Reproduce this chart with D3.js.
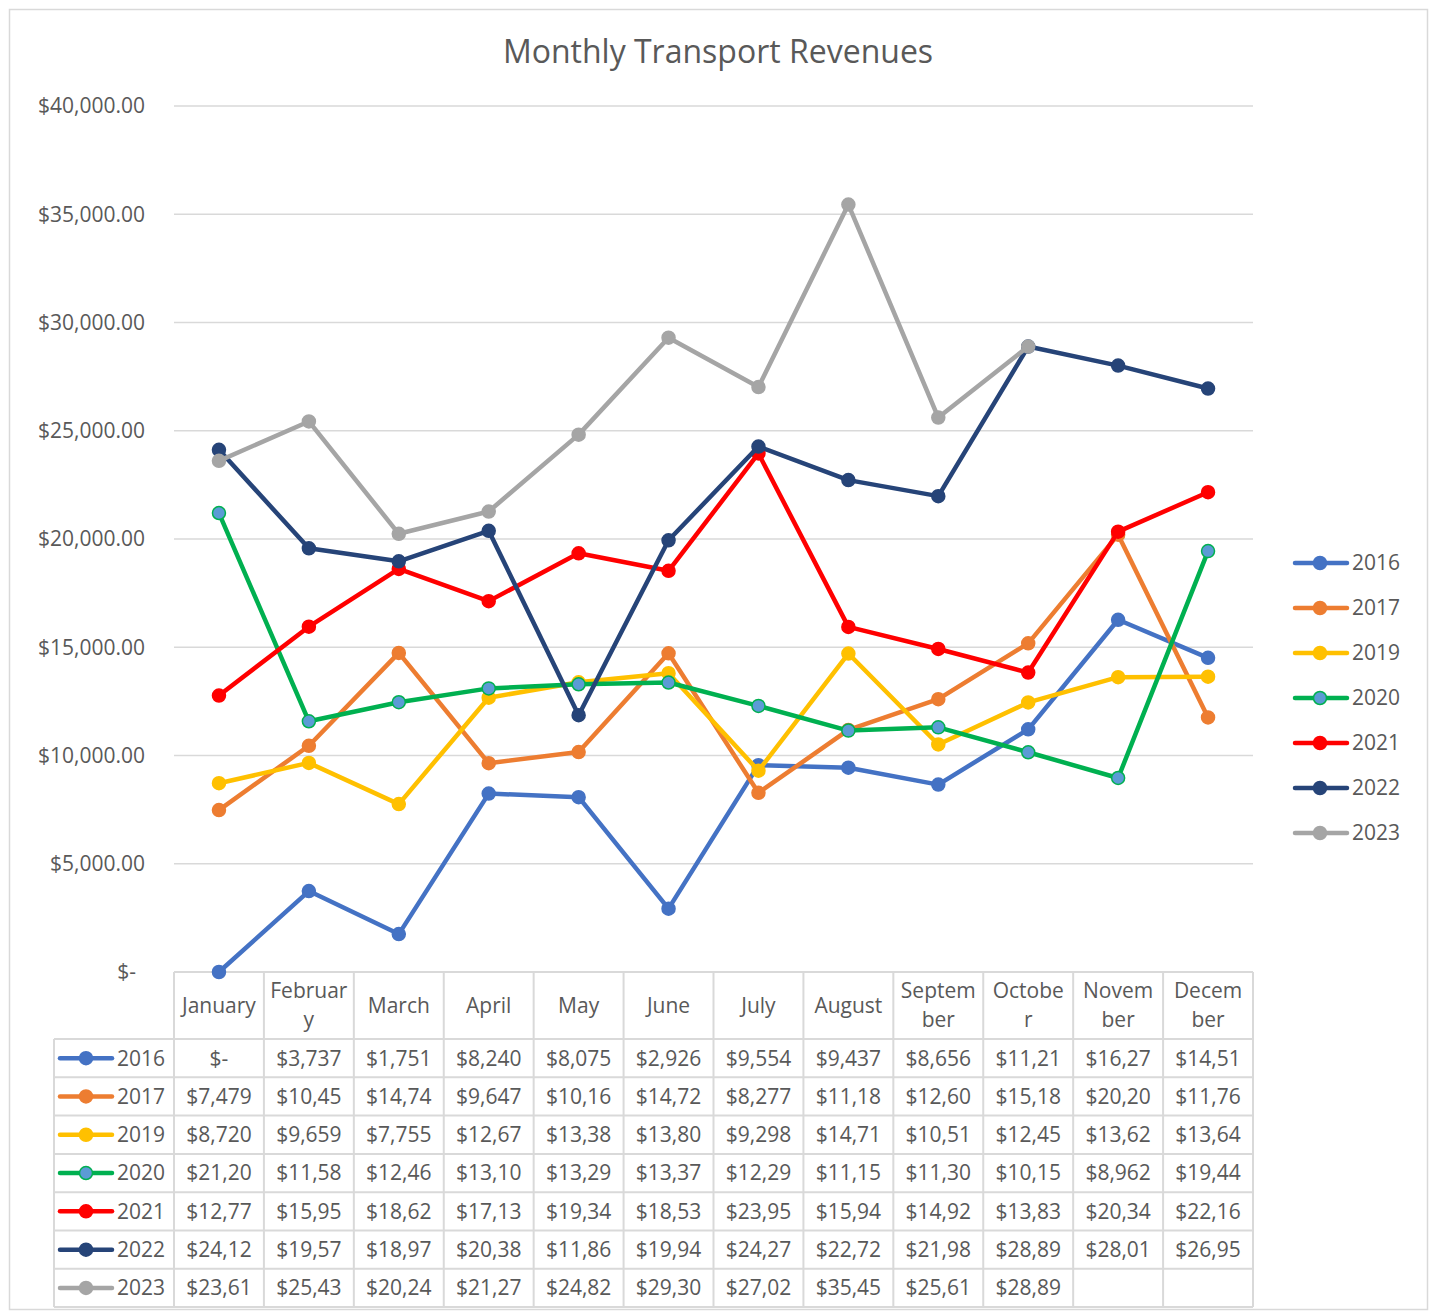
<!DOCTYPE html>
<html>
<head>
<meta charset="utf-8">
<script src="https://cdn.jsdelivr.net/npm/d3@7"></script>
<style>
  body { margin: 0; background: #fff; }
  svg { display: block; font-family: "Open Sans", sans-serif; }
</style>
</head>
<body>
<svg id="chart" width="1431" height="1314"></svg>
<script>
// data
const months = ["January", "February", "March", "April", "May", "June", "July",
    "August", "September", "October", "November", "December"];
const years = ["2016", "2017", "2019", "2020", "2021", "2022", "2023"];
const rev2016 = [0, 3737, 1751, 8240, 8075, 2926, 9554, 9437, 8656, 11210, 16270, 14510];
const rev2017 = [7479, 10450, 14740, 9647, 10160, 14720, 8277, 11180, 12600, 15180, 20200, 11760];
const rev2019 = [8720, 9659, 7755, 12670, 13380, 13800, 9298, 14710, 10510, 12450, 13620, 13640];
const rev2020 = [21200, 11580, 12460, 13100, 13290, 13370, 12290, 11150, 11300, 10150, 8962, 19440];
const rev2021 = [12770, 15950, 18620, 17130, 19340, 18530, 23950, 15940, 14920, 13830, 20340, 22160];
const rev2022 = [24120, 19570, 18970, 20380, 11860, 19940, 24270, 22720, 21980, 28890, 28010, 26950];
const rev2023 = [23610, 25430, 20240, 21270, 24820, 29300, 27020, 35450, 25610, 28890, null, null];
const yTicks = [0, 5000, 10000, 15000, 20000, 25000, 30000, 35000, 40000];

const seriesValues = [rev2016, rev2017, rev2019, rev2020, rev2021, rev2022, rev2023];
const lineColors = ["#4472c4", "#ed7d31", "#ffc000", "#00b050", "#ff0000", "#264478", "#a5a5a5"];
const dotFill = ["#4472c4", "#ed7d31", "#ffc000", "#5b9bd5", "#ff0000", "#264478", "#a5a5a5"];

const series = years.map((y, i) => ({
    year: y,
    color: lineColors[i],
    fill: dotFill[i],
    values: seriesValues[i].map((v, j) => ({ month: months[j], value: v }))
}));

const svg = d3.select("#chart");
const textCol = "#595959", gridCol = "#d9d9d9";
const fs = 21;

// chart border
svg.append("rect")
    .attr("x", 9.5).attr("y", 9.5)
    .attr("width", 1418).attr("height", 1300)
    .attr("fill", "none").attr("stroke", gridCol).attr("stroke-width", 1.5);

svg.append("text")
    .attr("x", 718).attr("y", 63)
    .attr("text-anchor", "middle")
    .attr("fill", textCol)
    .style("font-size", "32px")
    .text("Monthly Transport Revenues");

const plot = { left: 174, right: 1253, top: 106, bottom: 972 };

const x = d3.scaleBand().domain(months).range([plot.left, plot.right]);
const y = d3.scaleLinear().domain([0, 40000]).range([plot.bottom, plot.top]);
const cx = m => x(m) + x.bandwidth() / 2;

// gridlines
svg.append("g").selectAll("line")
    .data(yTicks.filter(t => t > 0))
    .join("line")
    .attr("x1", plot.left).attr("x2", plot.right)
    .attr("y1", d => y(d)).attr("y2", d => y(d))
    .attr("stroke", gridCol).attr("stroke-width", 1.5);

// y labels
const fmtY = d => d === 0 ? "$-" : "$" + d3.format(",.2f")(d);
svg.append("g").selectAll("text")
    .data(yTicks)
    .join("text")
    .attr("x", d => d === 0 ? 136 : 145)
    .attr("y", d => y(d))
    .attr("dy", "0.35em")
    .attr("text-anchor", "end")
    .attr("fill", textCol)
    .style("font-size", fs + "px")
    .text(fmtY);

// data table
const headerH = 67, rowH = 38.3;
const tableTop = plot.bottom, tableLeft = 54;
const rowsTop = tableTop + headerH;
const tableBottom = rowsTop + rowH * years.length;
const tg = svg.append("g");

// horizontal lines
tg.append("line").attr("x1", plot.left).attr("x2", plot.right)
    .attr("y1", tableTop).attr("y2", tableTop)
    .attr("stroke", gridCol).attr("stroke-width", 2);
tg.selectAll("line.h")
    .data(d3.range(years.length + 1))
    .join("line").attr("class", "h")
    .attr("x1", tableLeft).attr("x2", plot.right)
    .attr("y1", d => rowsTop + d * rowH).attr("y2", d => rowsTop + d * rowH)
    .attr("stroke", gridCol).attr("stroke-width", 2);
// vertical lines
const vx = months.map(m => x(m)).concat([plot.right]);
tg.selectAll("line.v")
    .data(vx)
    .join("line").attr("class", "v")
    .attr("x1", d => d).attr("x2", d => d)
    .attr("y1", tableTop).attr("y2", tableBottom)
    .attr("stroke", gridCol).attr("stroke-width", 2);
tg.append("line").attr("x1", tableLeft).attr("x2", tableLeft)
    .attr("y1", rowsTop).attr("y2", tableBottom)
    .attr("stroke", gridCol).attr("stroke-width", 2);

// month headers, broken by width like the cell does
function splitLabel(s, maxW) {
    const tmp = svg.append("text").style("font-size", fs + "px");
    const lines = [];
    let cur = "";
    for (const ch of s) {
        tmp.text(cur + ch);
        if (cur && tmp.node().getComputedTextLength() > maxW) {
            lines.push(cur);
            cur = ch;
        } else cur += ch;
    }
    lines.push(cur);
    tmp.remove();
    return lines;
}
months.forEach(m => {
    const lines = splitLabel(m, 77.5);
    const t = tg.append("text")
        .attr("text-anchor", "middle")
        .attr("fill", textCol)
        .style("font-size", fs + "px");
    const mid = tableTop + headerH / 2;
    lines.forEach((l, k) => {
        t.append("tspan")
            .attr("x", cx(m))
            .attr("y", mid + (k - (lines.length - 1) / 2) * 29)
            .attr("dy", "0.35em")
            .text(l);
    });
});

// cell values
const fmtCell = v => v == null ? "" : v === 0 ? "$-" : ("$" + d3.format(",")(Math.round(v))).slice(0, 6);
series.forEach((s, i) => {
    const ry = rowsTop + rowH * i + rowH / 2;
    // legend key
    tg.append("line")
        .attr("x1", 60).attr("x2", 112).attr("y1", ry).attr("y2", ry)
        .attr("stroke", s.color).attr("stroke-width", 4.5).attr("stroke-linecap", "round");
    tg.append("circle")
        .attr("cx", 86).attr("cy", ry).attr("r", 6.5)
        .attr("fill", s.fill).attr("stroke", s.color).attr("stroke-width", 1.5);
    tg.append("text")
        .attr("x", 117).attr("y", ry).attr("dy", "0.35em")
        .attr("fill", textCol).style("font-size", fs + "px")
        .text(s.year);
    tg.selectAll(null)
        .data(s.values)
        .join("text")
        .attr("x", d => cx(d.month))
        .attr("y", ry).attr("dy", "0.35em")
        .attr("text-anchor", "middle")
        .attr("fill", textCol).style("font-size", fs + "px")
        .text(d => fmtCell(d.value));
});

// lines and markers
const line = d3.line()
    .defined(d => d.value != null)
    .x(d => cx(d.month))
    .y(d => y(d.value));

series.forEach(s => {
    const g = svg.append("g");
    g.append("path")
        .attr("d", line(s.values))
        .attr("fill", "none")
        .attr("stroke", s.color)
        .attr("stroke-width", 4.5)
        .attr("stroke-linejoin", "round")
        .attr("stroke-linecap", "round");
    g.selectAll("circle")
        .data(s.values.filter(d => d.value != null))
        .join("circle")
        .attr("cx", d => cx(d.month))
        .attr("cy", d => y(d.value))
        .attr("r", 6.5)
        .attr("fill", s.fill)
        .attr("stroke", s.color)
        .attr("stroke-width", 1.5);
});

// right legend
const lg = svg.append("g");
series.forEach((s, i) => {
    const ly = 563 + i * 45;
    lg.append("line")
        .attr("x1", 1295).attr("x2", 1347).attr("y1", ly).attr("y2", ly)
        .attr("stroke", s.color).attr("stroke-width", 4.5).attr("stroke-linecap", "round");
    lg.append("circle")
        .attr("cx", 1320).attr("cy", ly).attr("r", 6.5)
        .attr("fill", s.fill).attr("stroke", s.color).attr("stroke-width", 1.5);
    lg.append("text")
        .attr("x", 1352).attr("y", ly).attr("dy", "0.35em")
        .attr("fill", textCol).style("font-size", fs + "px")
        .text(s.year);
});
</script>
</body>
</html>
